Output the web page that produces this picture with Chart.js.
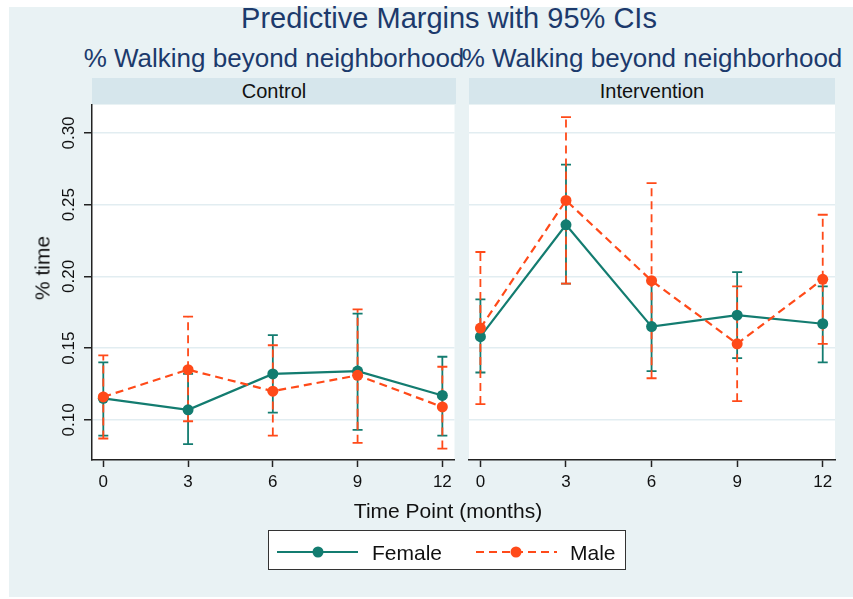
<!DOCTYPE html>
<html>
<head>
<meta charset="utf-8">
<script src="https://cdn.jsdelivr.net/npm/chart.js@4/dist/chart.umd.min.js"></script>
<style>
body { margin: 0; background: #fff; font-family: "Liberation Sans", Arial, sans-serif; }
#app { position: relative; width: 853px; height: 599px; overflow: hidden; }
#frame { position: absolute; left: 9px; top: 7px; width: 844px; height: 590px; background: #e9f2f4; }
.txt { position: absolute; white-space: nowrap; line-height: 1; }
#title { left: 449px; top: 4px; font-size: 29px; color: #1c3a6c; transform: translateX(-50%); }
.sub { top: 45px; font-size: 26px; color: #1c3a6c; transform: translateX(-50%); }
.head { position: absolute; top: 78px; height: 26px; line-height: 26px; background: #d6e6ec;
        text-align: center; font-size: 20px; color: #111; }
#ytitle { left: 42px; top: 268px; font-size: 21px; color: #111; transform: translate(-50%, -50%) rotate(-90deg); }
#xtitle { left: 448px; top: 500px; font-size: 21px; color: #111; transform: translateX(-50%); }
#legend { position: absolute; left: 268px; top: 530px; width: 356px; height: 38px; background: #fff; border: 1.5px solid #333; }
#legend svg { position: absolute; left: 0; top: 0; }
canvas { position: absolute; top: 0; }
</style>
</head>
<body>
<div id="app">
  <div id="frame"></div>
  <div id="title" class="txt">Predictive Margins with 95% CIs</div>
  <div class="txt sub" style="left:274px">% Walking beyond neighborhood</div>
  <div class="txt sub" style="left:652px">% Walking beyond neighborhood</div>
  <div class="head" style="left:92px; width:364px">Control</div>
  <div class="head" style="left:469px; width:366px">Intervention</div>
  <canvas id="left" width="460" height="500" style="left:0px"></canvas>
  <canvas id="right" width="393" height="500" style="left:460px"></canvas>
  <div id="ytitle" class="txt">% time</div>
  <div id="xtitle" class="txt">Time Point (months)</div>
  <div id="legend">
    <svg width="356" height="38">
      <line x1="8" y1="21" x2="89" y2="21" stroke="#137c70" stroke-width="2.2"/>
      <circle cx="49" cy="21" r="5.5" fill="#137c70"/>
      <text x="103" y="29" font-size="21" fill="#111" font-family="Liberation Sans, Arial">Female</text>
      <line x1="207" y1="21" x2="288" y2="21" stroke="#ff4a19" stroke-width="2.2" stroke-dasharray="8 5"/>
      <circle cx="247" cy="21" r="5.5" fill="#ff4a19"/>
      <text x="301" y="29" font-size="21" fill="#111" font-family="Liberation Sans, Arial">Male</text>
    </svg>
  </div>
</div>
<script>
const timePoints = [0, 3, 6, 9, 12]
const yTicks = [0.10, 0.15, 0.20, 0.25, 0.30]
const yTickLabels = ["0.10", "0.15", "0.20", "0.25", "0.30"]

// Control
const femaleCtrl   = [0.115, 0.107, 0.132, 0.134, 0.117]
const femaleCtrlLo = [0.089, 0.083, 0.105, 0.093, 0.089]
const femaleCtrlHi = [0.140, 0.132, 0.159, 0.174, 0.144]
const maleCtrl     = [0.116, 0.135, 0.120, 0.131, 0.109]
const maleCtrlLo   = [0.087, 0.099, 0.089, 0.084, 0.080]
const maleCtrlHi   = [0.145, 0.172, 0.152, 0.177, 0.137]

// Intervention
const femaleInt   = [0.158, 0.236, 0.165, 0.173, 0.167]
const femaleIntLo = [0.133, 0.195, 0.134, 0.143, 0.140]
const femaleIntHi = [0.184, 0.278, 0.197, 0.203, 0.193]
const maleInt     = [0.164, 0.253, 0.197, 0.153, 0.198]
const maleIntLo   = [0.111, 0.195, 0.129, 0.113, 0.153]
const maleIntHi   = [0.217, 0.311, 0.265, 0.193, 0.243]

const teal = "#137c70"
const red = "#ff4a19"

const plotBg = {
    id: "plotBg",
    beforeDraw(chart){
        const a = chart.chartArea
        chart.ctx.save()
        chart.ctx.fillStyle = "#fff"
        chart.ctx.fillRect(a.left, a.top, a.right - a.left, a.bottom - a.top)
        chart.ctx.restore()
    }
}

// 95% CI caps, drawn under the lines
const errorBars = {
    id: "errorBars",
    beforeDatasetsDraw(chart){
        const ctx = chart.ctx, xs = chart.scales.x, ys = chart.scales.y
        chart.data.datasets.forEach(ds => {
            ctx.save()
            ctx.strokeStyle = ds.borderColor
            ctx.lineWidth = 1.8
            ds.data.forEach((p, i) => {
                const px = xs.getPixelForValue(p.x)
                const lo = ys.getPixelForValue(ds.lo[i])
                const hi = ys.getPixelForValue(ds.hi[i])
                ctx.setLineDash(ds.borderDash || [])
                ctx.beginPath()
                ctx.moveTo(px, lo)
                ctx.lineTo(px, hi)
                ctx.stroke()
                ctx.setLineDash([])
                ctx.beginPath()
                ctx.moveTo(px - 5, lo); ctx.lineTo(px + 5, lo)
                ctx.moveTo(px - 5, hi); ctx.lineTo(px + 5, hi)
                ctx.stroke()
            })
            ctx.restore()
        })
    }
}

const yLabels = {
    id: "yLabels",
    afterDraw(chart){
        if (!chart.options.plugins.yLabels.show) return
        const ctx = chart.ctx, ys = chart.scales.y
        ctx.save()
        ctx.fillStyle = "#111"
        ctx.font = "17px 'Liberation Sans', Arial"
        ctx.textAlign = "center"
        ctx.textBaseline = "middle"
        yTicks.forEach((v, i) => {
            ctx.save()
            ctx.translate(69, ys.getPixelForValue(v))
            ctx.rotate(-Math.PI / 2)
            ctx.fillText(yTickLabels[i], 0, 0)
            ctx.restore()
        })
        ctx.restore()
    }
}

function series(vals, lo, hi, color, dash, label, order){
    return {
        label: label,
        data: timePoints.map((t, i) => ({x: t, y: vals[i]})),
        lo: lo,
        hi: hi,
        borderColor: color,
        backgroundColor: color,
        borderWidth: 2.2,
        borderDash: dash,
        pointRadius: 5.5,
        pointBorderWidth: 0,
        pointBackgroundColor: color,
        tension: 0,
        order: order
    }
}

function createPanel(id, fem, femLo, femHi, male, maleLo, maleHi, showY, padding){
    const canvas = document.getElementById(id)
    return new Chart(canvas.getContext("2d"), {
        type: "line",
        data: {
            datasets: [
                series(fem, femLo, femHi, teal, [], "Female", 1),
                series(male, maleLo, maleHi, red, [8, 5], "Male", 0)
            ]
        },
        options: {
            responsive: false,
            animation: false,
            layout: { padding: padding },
            plugins: { legend: { display: false }, tooltip: { enabled: false }, yLabels: { show: showY } },
            scales: {
                x: {
                    type: "linear",
                    min: -0.4,
                    max: 12.43,
                    afterBuildTicks: s => { s.ticks = timePoints.map(v => ({value: v})) },
                    afterFit: s => { s.height = 40 },
                    ticks: { color: "#111", font: { size: 17, family: "'Liberation Sans', Arial" }, padding: 5, maxRotation: 0 },
                    grid: { drawOnChartArea: false, drawTicks: true, tickLength: 7, tickColor: "#222", tickWidth: 1.5 },
                    border: { color: "#222", width: 1.5 }
                },
                y: {
                    type: "linear",
                    min: 0.072,
                    max: 0.3195,
                    afterBuildTicks: s => { s.ticks = yTicks.map(v => ({value: v})) },
                    afterFit: s => { s.width = showY ? 92 : 0 },
                    ticks: { display: false },
                    grid: { color: "#e2edf1", lineWidth: 1.5, drawTicks: showY, tickLength: 8, tickColor: "#222", tickWidth: 1.5 },
                    border: { display: showY, color: "#222", width: 1.5 }
                }
            }
        },
        plugins: [plotBg, errorBars, yLabels]
    })
}

createPanel("left", femaleCtrl, femaleCtrlLo, femaleCtrlHi, maleCtrl, maleCtrlLo, maleCtrlHi, true,
    { left: 0, right: 4, top: 105, bottom: 0 })
createPanel("right", femaleInt, femaleIntLo, femaleIntHi, maleInt, maleIntLo, maleIntHi, false,
    { left: 9, right: 18, top: 105, bottom: 0 })
</script>
</body>
</html>
